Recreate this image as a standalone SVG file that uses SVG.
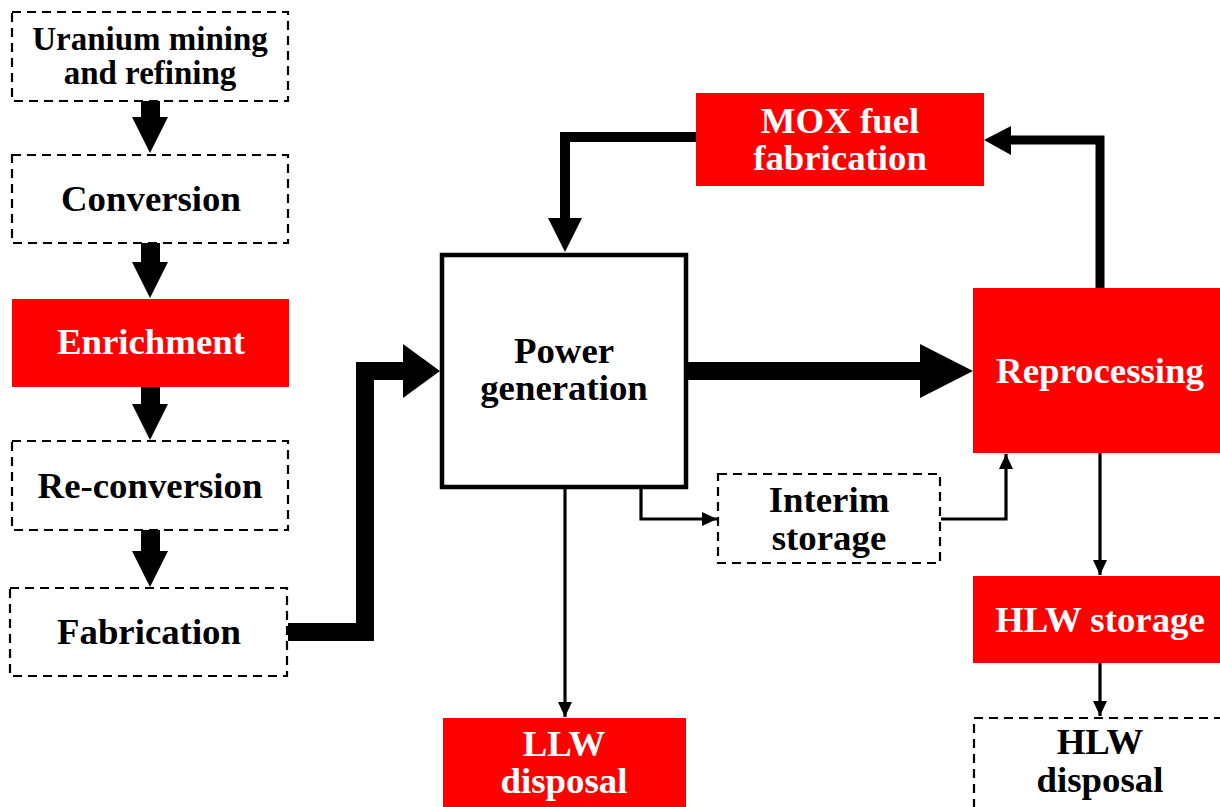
<svg xmlns="http://www.w3.org/2000/svg" width="1220" height="807" viewBox="0 0 1220 807">
<style>
.dash{fill:#fff;stroke:#000;stroke-width:2.2;stroke-dasharray:9,6}
.red{fill:#ff0000;stroke:none}
.t{font-family:"Liberation Serif","Times New Roman",serif;font-weight:bold;font-size:36.8px;text-anchor:middle;fill:#000}
.s{font-size:33px}
.w{fill:#fff}
.thin{fill:none;stroke:#000;stroke-width:3.2}
.thick{fill:none;stroke:#000}
</style>
<defs>
<marker id="ah" markerUnits="userSpaceOnUse" markerWidth="16" markerHeight="14" refX="15" refY="7" orient="auto">
<polygon points="0,0 15,7 0,14" fill="#000"/>
</marker>
</defs>
<rect width="1220" height="807" fill="#fff"/>

<g id="connectors">
<polygon points="141,101 160,101 160,117 168,117 150,153 132,117 141,117" fill="#000"/>
<polygon points="141,243 160,243 160,262 168,262 150,298 132,262 141,262" fill="#000"/>
<polygon points="141,387 160,387 160,404 168,404 150,440 132,404 141,404" fill="#000"/>
<polygon points="141,530 160,530 160,551 168,551 150,587 132,551 141,551" fill="#000"/>
<polyline class="thick" stroke-width="18" points="288,632 365,632 365,371 404,371"/>
<polygon points="403,344 440,371 403,398" fill="#000"/>
<line class="thick" stroke-width="18" x1="688" y1="371" x2="921" y2="371"/>
<polygon points="920,344 973,371 920,398" fill="#000"/>
<polyline class="thick" stroke-width="9" points="1100,288 1100,140 1010,140"/>
<polygon points="1011,126 984,140 1011,155" fill="#000"/>
<polyline class="thick" stroke-width="10" points="696,137 565,137 565,219"/>
<polygon points="548,218 582,218 565,252" fill="#000"/>
<line class="thin" x1="565" y1="489" x2="565" y2="717" marker-end="url(#ah)"/>
<polyline class="thin" points="641,489 641,519 717,519" marker-end="url(#ah)"/>
<polyline class="thin" points="941,519 1006,519 1006,454" marker-end="url(#ah)"/>
<line class="thin" x1="1100" y1="453" x2="1100" y2="575" marker-end="url(#ah)"/>
<line class="thin" x1="1100" y1="663" x2="1100" y2="716" marker-end="url(#ah)"/>
</g>

<g id="uranium">
<rect class="dash" x="12" y="12" width="276" height="89"/>
<text class="t s" x="150" y="50">Uranium mining</text>
<text class="t s" x="150" y="84">and refining</text>
</g>
<g id="conversion">
<rect class="dash" x="12" y="155" width="276" height="88"/>
<text class="t" x="151" y="211">Conversion</text>
</g>
<g id="enrichment">
<rect class="red" x="12" y="299" width="277" height="88"/>
<text class="t w" x="151" y="354">Enrichment</text>
</g>
<g id="reconversion">
<rect class="dash" x="12" y="441" width="276" height="89"/>
<text class="t" x="150" y="498">Re-conversion</text>
</g>
<g id="fabrication">
<rect class="dash" x="10" y="588" width="277" height="88"/>
<text class="t" x="149" y="644">Fabrication</text>
</g>
<g id="power">
<rect x="442" y="255" width="244" height="232" fill="#fff" stroke="#000" stroke-width="4.5"/>
<text class="t" x="564" y="363">Power</text>
<text class="t" x="564" y="400">generation</text>
</g>
<g id="mox">
<rect class="red" x="696" y="93" width="288" height="93"/>
<text class="t w" x="840" y="133">MOX fuel</text>
<text class="t w" x="840" y="170">fabrication</text>
</g>
<g id="reprocessing">
<rect class="red" x="973" y="288" width="247" height="165"/>
<text class="t w" x="1100" y="383">Reprocessing</text>
</g>
<g id="interim">
<rect class="dash" x="718" y="474" width="222" height="89"/>
<text class="t" x="829" y="512">Interim</text>
<text class="t" x="829" y="550">storage</text>
</g>
<g id="hlwstorage">
<rect class="red" x="973" y="576" width="247" height="87"/>
<text class="t w" x="1100" y="632">HLW storage</text>
</g>
<g id="llw">
<rect class="red" x="443" y="718" width="243" height="95"/>
<text class="t w" x="564" y="756">LLW</text>
<text class="t w" x="564" y="793">disposal</text>
</g>
<g id="hlwdisposal">
<rect class="dash" x="974" y="718" width="260" height="100"/>
<text class="t" x="1100" y="754">HLW</text>
<text class="t" x="1100" y="792">disposal</text>
</g>
</svg>
